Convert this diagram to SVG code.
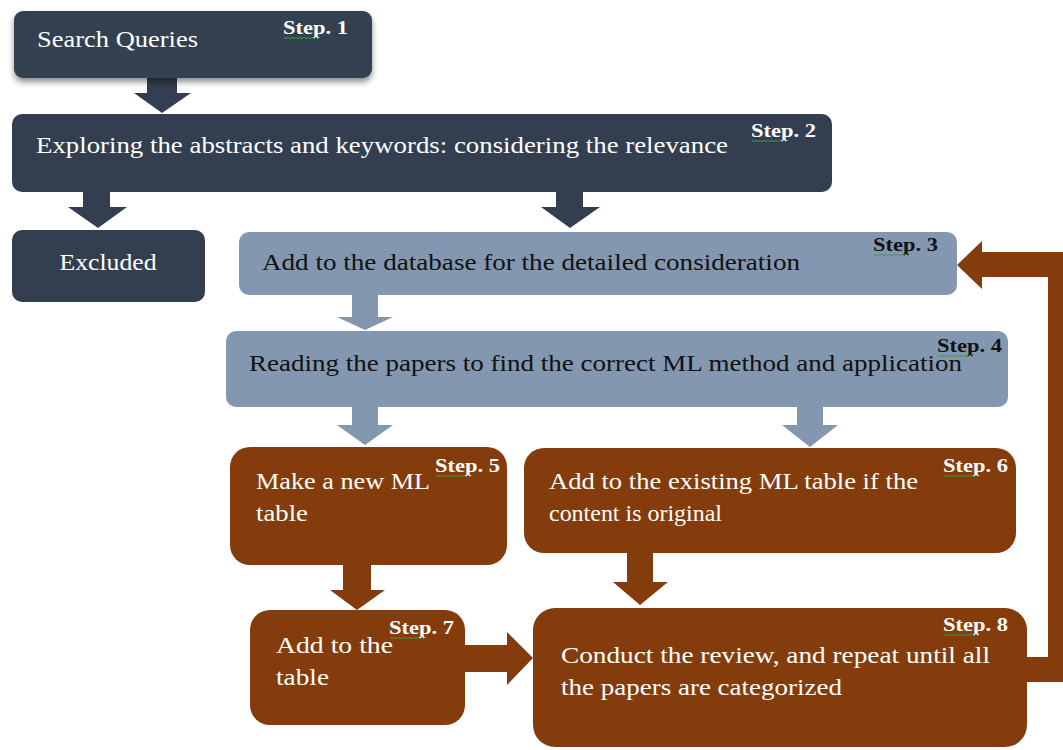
<svg xmlns="http://www.w3.org/2000/svg" width="1063" height="750" viewBox="0 0 1063 750">
<defs>
<filter id="sh" x="-10%" y="-20%" width="120%" height="150%">
<feGaussianBlur in="SourceAlpha" stdDeviation="3"/>
<feOffset dx="0" dy="4" result="b"/>
<feComponentTransfer><feFuncA type="linear" slope="0.45"/></feComponentTransfer>
<feMerge><feMergeNode/><feMergeNode in="SourceGraphic"/></feMerge>
</filter>
<path id="sq" d="M0,0 l2,2 l2,-2 l2,2 l2,-2 l2,2 l2,-2 l2,2 l2,-2 l2,2 l2,-2 l2,2 l2,-2 l2,2 l2,-2 l2,2 l2,-2 l2,2"/>
</defs>
<style>
.dark{fill:#333f50}
.blue{fill:#8497b0}
.brown{fill:#843c0c}
.t{font-family:"Liberation Serif","Times New Roman",serif;font-size:23px}
.w{fill:#ffffff}
.k{fill:#111111}
.s{font-family:"Liberation Serif","Times New Roman",serif;font-size:18px;font-weight:bold}
.sq{fill:none;stroke:#3f9b3f;stroke-width:1}
</style>
<rect width="1063" height="750" fill="#ffffff"/>
<g id="connectors">
<polygon class="dark" points="147,76 177,76 177,93 191,93 162,113 134,93 147,93"/>
<polygon class="dark" points="83,190 110,190 110,207 127,207 98,228 68,207 83,207"/>
<polygon class="dark" points="556,190 583,190 583,207 600,207 570,228 541,207 556,207"/>
<polygon class="blue" points="352,293 378,293 378,317 393,317 365,330 337,317 352,317"/>
<polygon class="blue" points="352,405 378,405 378,425 393,425 365,445 337,425 352,425"/>
<polygon class="blue" points="797,405 823,405 823,425 838,425 810,447 782,425 797,425"/>
<polygon class="brown" points="343,563 371,563 371,590 385,590 357,610 330,590 343,590"/>
<polygon class="brown" points="627,551 653,551 653,582 668,582 640,605 613,582 627,582"/>
<polygon class="brown" points="463,645 507,645 507,632 533,658 507,685 507,672 463,672"/>
<polygon class="brown" points="1025,657 1048,657 1048,277 982,277 982,289 957,265 982,241 982,252 1075,252 1075,682 1025,682"/>
</g>
<g id="step1">
<rect class="dark" x="14" y="11" width="358" height="67" rx="9" filter="url(#sh)"/>
<text class="t w" x="37" y="47" textLength="161" lengthAdjust="spacingAndGlyphs">Search Queries</text>
<text class="s w" x="283" y="34" textLength="65" lengthAdjust="spacingAndGlyphs">Step. 1</text>
<use href="#sq" x="284" y="37" class="sq"/>
</g>
<g id="step2">
<rect class="dark" x="12" y="114" width="820" height="78" rx="10"/>
<text class="t w" x="36" y="153" textLength="692" lengthAdjust="spacingAndGlyphs">Exploring the abstracts and keywords: considering the relevance</text>
<text class="s w" x="751" y="137" textLength="65" lengthAdjust="spacingAndGlyphs">Step. 2</text>
<use href="#sq" x="752" y="140" class="sq"/>
</g>
<g id="excluded">
<rect class="dark" x="12" y="230" width="193" height="72" rx="10"/>
<text class="t w" x="108" y="270" text-anchor="middle" textLength="97" lengthAdjust="spacingAndGlyphs">Excluded</text>
</g>
<g id="step3">
<rect class="blue" x="239" y="232" width="718" height="63" rx="10"/>
<text class="t k" x="262" y="270" textLength="538" lengthAdjust="spacingAndGlyphs">Add to the database for the detailed consideration</text>
<text class="s k" x="873" y="251" textLength="65" lengthAdjust="spacingAndGlyphs">Step. 3</text>
<use href="#sq" x="874" y="254" class="sq"/>
</g>
<g id="step4">
<rect class="blue" x="226" y="331" width="782" height="76" rx="10"/>
<text class="t k" x="249" y="371" textLength="713" lengthAdjust="spacingAndGlyphs">Reading the papers to find the correct ML method and application</text>
<text class="s k" x="937" y="352" textLength="65" lengthAdjust="spacingAndGlyphs">Step. 4</text>
<use href="#sq" x="938" y="355" class="sq"/>
</g>
<g id="step5">
<rect class="brown" x="230" y="447" width="277" height="118" rx="20"/>
<text class="t w" x="256" y="489" textLength="174" lengthAdjust="spacingAndGlyphs">Make a new ML</text>
<text class="t w" x="256" y="521" textLength="52" lengthAdjust="spacingAndGlyphs">table</text>
<text class="s w" x="435" y="472" textLength="65" lengthAdjust="spacingAndGlyphs">Step. 5</text>
<use href="#sq" x="436" y="475" class="sq"/>
</g>
<g id="step6">
<rect class="brown" x="524" y="448" width="492" height="105" rx="20"/>
<text class="t w" x="549" y="489" textLength="369" lengthAdjust="spacingAndGlyphs">Add to the existing ML table if the</text>
<text class="t w" x="549" y="521" textLength="173" lengthAdjust="spacingAndGlyphs">content is original</text>
<text class="s w" x="943" y="472" textLength="65" lengthAdjust="spacingAndGlyphs">Step. 6</text>
<use href="#sq" x="944" y="475" class="sq"/>
</g>
<g id="step7">
<rect class="brown" x="250" y="610" width="215" height="115" rx="20"/>
<text class="t w" x="276" y="653" textLength="117" lengthAdjust="spacingAndGlyphs">Add to the</text>
<text class="t w" x="276" y="685" textLength="53" lengthAdjust="spacingAndGlyphs">table</text>
<text class="s w" x="389" y="634" textLength="65" lengthAdjust="spacingAndGlyphs">Step. 7</text>
<use href="#sq" x="390" y="637" class="sq"/>
</g>
<g id="step8">
<rect class="brown" x="533" y="608" width="494" height="139" rx="22"/>
<text class="t w" x="561" y="663" textLength="429" lengthAdjust="spacingAndGlyphs">Conduct the review, and repeat until all</text>
<text class="t w" x="561" y="695" textLength="281" lengthAdjust="spacingAndGlyphs">the papers are categorized</text>
<text class="s w" x="943" y="631" textLength="65" lengthAdjust="spacingAndGlyphs">Step. 8</text>
<use href="#sq" x="944" y="634" class="sq"/>
</g>
</svg>
